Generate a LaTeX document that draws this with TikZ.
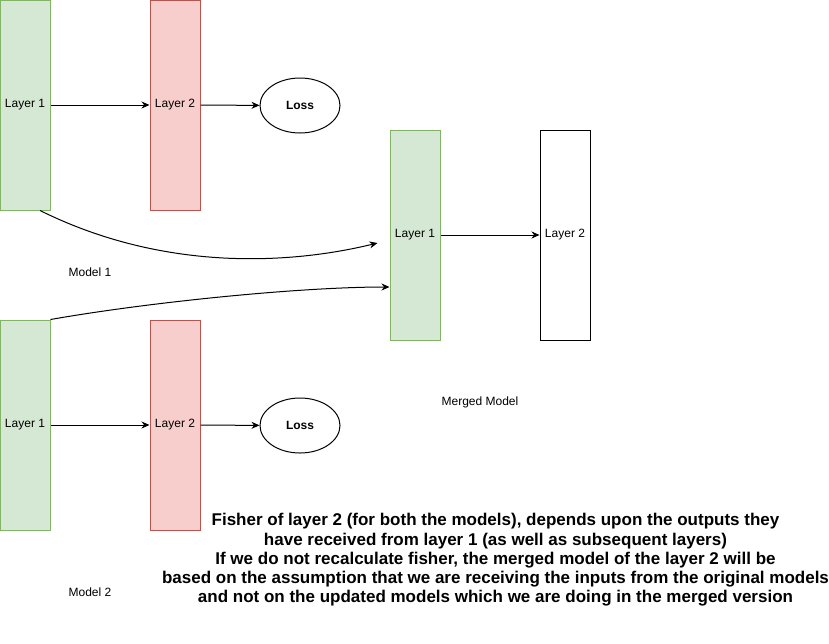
\documentclass[tikz,border=0pt]{standalone}
\usepackage{fontspec}
\setmainfont{Liberation Sans}
\usetikzlibrary{arrows.meta,shapes.geometric}
\definecolor{greenfill}{HTML}{D5E8D4}
\definecolor{greenline}{HTML}{82B366}
\definecolor{redfill}{HTML}{F8CECC}
\definecolor{redline}{HTML}{B85450}
\tikzset{
  layer/.style={draw,line width=1pt,minimum width=50pt,minimum height=210pt,inner sep=0pt,font=\fontsize{12}{14}\selectfont},
  greenlayer/.style={layer,fill=greenfill,draw=greenline},
  redlayer/.style={layer,fill=redfill,draw=redline},
  loss/.style={draw,ellipse,line width=1pt,minimum width=80pt,minimum height=55pt,inner sep=0pt,font=\fontsize{12}{14}\selectfont\bfseries},
  caption/.style={font=\fontsize{12}{14}\selectfont},
  conn/.style={line width=1pt,-{Stealth[length=8pt,width=7pt]}}
}
\begin{document}
\begin{tikzpicture}[x=1pt,y=-1pt]
\useasboundingbox (0,0) rectangle (829,643);
\node[greenlayer] (l1a) at (25,105) {Layer 1};
\node[redlayer] (l2a) at (175,105) {Layer 2};
\node[loss] (lossa) at (300,105.5) {Loss};
\node[caption] (moda) at (90,272) {Model 1};
\node[greenlayer] (l1b) at (25,425) {Layer 1};
\node[redlayer] (l2b) at (175,425) {Layer 2};
\node[loss] (lossb) at (300,425.5) {Loss};
\node[caption] (modb) at (90,592) {Model 2};
\node[greenlayer] (m1) at (415,235) {Layer 1};
\node[layer] (m2) at (565,235) {Layer 2};
\node[caption] (modm) at (480,402) {Merged Model};
\draw[conn] (l1a) -- (l2a);
\draw[conn] (l2a) -- (lossa);
\draw[conn] (l1b) -- (l2b);
\draw[conn] (l2b) -- (lossb);
\draw[conn] (m1) -- (m2);
\draw[conn] ([xshift=15pt]l1a.south) .. controls (170,275) and (300,262) .. ([xshift=-12pt,yshift=-8pt]m1.west);
\draw[conn] (l1b.north east) .. controls (150,302) and (300,287) .. ([yshift=-52pt]m1.west);
\node[align=center,font=\fontsize{17}{19.3}\selectfont\bfseries] (note) at (495.5,560) {Fisher of layer 2 (for both the models), depends upon the outputs they\\have received from layer 1 (as well as subsequent layers)\\If we do not recalculate fisher, the merged model of the layer 2 will be\\based on the assumption that we are receiving the inputs from the original models\\and not on the updated models which we are doing in the merged version};
\end{tikzpicture}
\end{document}
